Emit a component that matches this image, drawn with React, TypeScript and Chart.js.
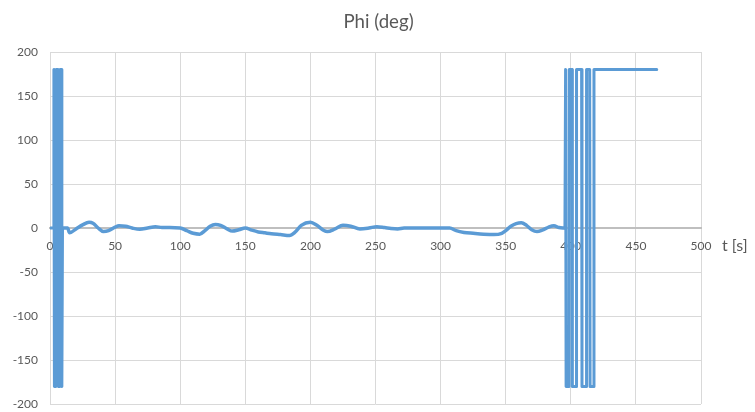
import React, { useEffect, useRef } from "react";
import { Chart, registerables } from "chart.js";

Chart.register(...registerables);

const TITLE = "Phi (deg)";
const X_AXIS_TITLE = "t [s]";

const xTickMin = 0;
const xTickMax = 500;
const xTickStep = 50;
const yTickMin = -200;
const yTickMax = 200;
const yTickStep = 50;

// first wrap-around burst (angle flips between +180 and -180)
const spike1Times = [0, 2.6, 3.0, 3.4, 4.5, 4.9, 6.0, 6.4, 7.5, 7.9, 8.6, 9.0, 9.2, 9.6];
const spike1Values = [0, 0, 180, -180, -180, 180, 180, -180, -180, 180, 180, -180, -180, 0];

// small oscillation around zero
const waveTimes = [
  9.6, 13.5, 15, 20, 25, 30, 33, 37, 41, 45, 50, 53, 58, 63, 69, 75, 81, 86, 92, 100,
  105, 110, 115, 119, 123, 127, 131, 136, 140, 145, 150, 155, 160, 165, 170, 177, 184, 188, 193, 200,
  205, 210, 213, 219, 225, 231, 238, 245, 251, 257, 262, 267, 272, 280, 290, 300, 307, 312, 318, 325,
  333, 341, 347, 350, 354, 358, 362, 366, 370, 374, 378, 383, 387, 391, 395.5,
];
const waveValues = [
  0, 0, -5.5, -1, 3.5, 6.5, 5.5, 0, -4, -3, 1, 2.5, 2, 0, -1.5, 0, 1.5, 0.5, 0.5, 0,
  -3, -6, -7, -3, 2, 4, 3, -1, -3.5, -2, 0, -2.5, -4.5, -5.5, -6.5, -7.5, -8.5, -5, 3, 6.5,
  3, -2.5, -4, -1, 3, 2, -1, 0, 1.5, 0.5, -0.5, -1, 0, 0, 0, 0, 0, -3, -5, -6,
  -7, -7.5, -6, -3, 2, 5, 6, 3, -2, -4, -2.5, 1, 2.5, 0.5, 0,
];

// second wrap-around burst, then stays at 180
const spike2Times = [
  395.5, 396.0, 396.4, 398.6, 398.8, 401.0, 401.2, 404.0, 404.4,
  408.3, 408.6, 411.8, 412.1, 414.5, 414.8, 417.5, 417.8, 466,
];
const spike2Values = [
  0, 180, -180, -180, 180, 180, -180, -180, 180,
  180, -180, -180, 180, 180, -180, -180, 180, 180,
];

const LINE_COLOR = "#5B9BD5";
const TEXT_COLOR = "#595959";
const GRID_COLOR = "#D9D9D9";
const FONT = "Lato";

function toPoints(ts: number[], vs: number[]) {
  return ts.map((t, i) => ({ x: t, y: vs[i] }));
}

const textPlugin = {
  id: "excelTexts",
  afterDraw(chart: any) {
    const ctx = chart.ctx;
    const area = chart.chartArea;
    const yScale = chart.scales.y;
    ctx.save();
    ctx.fillStyle = TEXT_COLOR;
    ctx.font = `18.67px ${FONT}`;
    ctx.textAlign = "center";
    ctx.textBaseline = "middle";
    ctx.fillText(TITLE, chart.width / 2 + 1, 22);
    ctx.font = `16px ${FONT}`;
    ctx.textAlign = "left";
    ctx.fillText(X_AXIS_TITLE, area.right + 21, yScale.getPixelForValue(0) + 18);
    ctx.restore();
  },
};

export default function App() {
  const canvasRef = useRef<HTMLCanvasElement | null>(null);

  useEffect(() => {
    if (!canvasRef.current) return;
    const lineStyle = {
      borderColor: LINE_COLOR,
      backgroundColor: LINE_COLOR,
      borderWidth: 3,
      pointRadius: 0,
      showLine: true,
      borderCapStyle: "round" as const,
      borderJoinStyle: "round" as const,
    };
    const chart = new Chart(canvasRef.current, {
      type: "scatter",
      data: {
        datasets: [
          { ...lineStyle, data: toPoints(spike1Times, spike1Values), tension: 0 },
          { ...lineStyle, borderWidth: 3.5, data: toPoints(waveTimes, waveValues), cubicInterpolationMode: "monotone" },
          { ...lineStyle, data: toPoints(spike2Times, spike2Values), tension: 0 },
        ],
      },
      options: {
        animation: false,
        responsive: true,
        maintainAspectRatio: false,
        layout: { padding: { top: 52, right: 54, bottom: 8, left: 0 } },
        plugins: {
          legend: { display: false },
          title: { display: false },
          tooltip: { enabled: false },
        },
        scales: {
          x: {
            type: "linear",
            min: xTickMin,
            max: xTickMax,
            position: { y: 0 } as any,
            grid: { color: GRID_COLOR, lineWidth: 1, drawTicks: false },
            border: { display: true, color: "#BFBFBF", width: 2 },
            ticks: {
              stepSize: xTickStep,
              color: TEXT_COLOR,
              font: { family: FONT, size: 12 },
              padding: 11,
              maxRotation: 0,
              autoSkip: false,
            },
          },
          y: {
            type: "linear",
            min: yTickMin,
            max: yTickMax,
            grid: { color: GRID_COLOR, lineWidth: 1, drawTicks: false },
            border: { display: false },
            ticks: {
              stepSize: yTickStep,
              color: TEXT_COLOR,
              font: { family: FONT, size: 12 },
              padding: 12,
            },
            afterFit: (s: any) => {
              s.width = 50;
              s.paddingTop = 0;
              s.paddingBottom = 0;
            },
          },
        },
      },
      plugins: [textPlugin],
    });
    return () => chart.destroy();
  }, []);

  return (
    <div style={{ position: "fixed", left: 0, top: 0, width: 755, height: 412, background: "#fff" }}>
      <canvas ref={canvasRef} />
    </div>
  );
}
